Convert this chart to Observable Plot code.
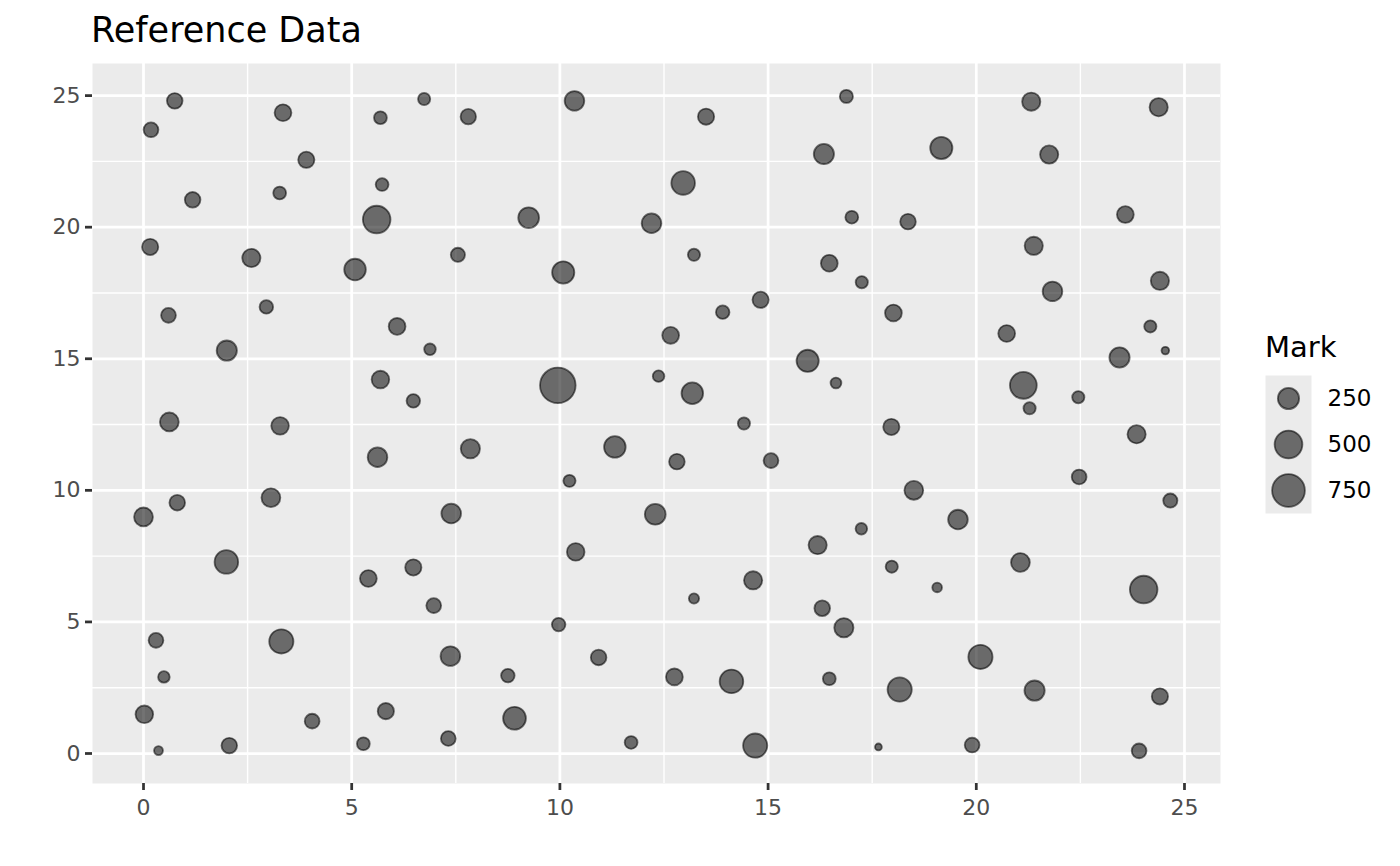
<!DOCTYPE html>
<html>
<head>
<meta charset="utf-8">
<script src="https://cdn.jsdelivr.net/npm/d3@7"></script>
<script src="https://cdn.jsdelivr.net/npm/@observablehq/plot@0.6"></script>
<style>
  html, body { margin: 0; padding: 0; background: white; }
  #wrap { position: relative; width: 1400px; height: 866px; overflow: hidden; font-family: "DejaVu Sans", sans-serif; }
  #chart { position: absolute; left: 0; top: 0; }
  #title { position: absolute; left: 91px; top: 13px; font-size: 35px; line-height: 35px; color: #000; white-space: nowrap; }
  #legtitle { position: absolute; left: 1265px; top: 333px; font-size: 29px; line-height: 29px; color: #000; }
  #legend { position: absolute; left: 1265px; top: 375px; }
</style>
</head>
<body>
<div id="wrap">
  <div id="chart"></div>
  <div id="title">Reference Data</div>
  <div id="legtitle">Mark</div>
  <div id="legend"></div>
</div>
<script>
const xs = [0.75, 0.18, 3.35, 3.91, 5.69, 6.74, 7.80, 1.18, 3.27, 5.73, 5.60, 0.16, 2.59, 5.08, 7.55,
  10.35, 13.51, 16.34, 16.88, 12.96, 9.25, 12.20, 13.22, 16.47, 17.01, 10.08, 14.82,
  21.32, 24.38, 19.16, 21.75, 18.36, 23.58, 21.38, 17.25, 21.83, 24.41,
  0.60, 2.95, 2.00, 6.09, 6.88, 5.69, 6.48, 0.62, 3.28, 5.62, 7.85, 0.81, 0.00, 3.06, 7.39,
  13.91, 12.66, 15.95, 16.63, 9.95, 12.37, 13.18, 14.42, 11.32, 12.81, 15.07, 10.23, 12.29,
  18.01, 20.73, 24.18, 24.54, 23.44, 21.13, 21.28, 22.45, 17.96, 23.85, 22.47, 18.50, 24.66, 19.56, 17.24,
  1.99, 5.40, 6.48, 6.97, 0.30, 3.31, 7.37, 0.49, 0.02, 4.05, 5.82, 0.36, 2.06, 5.28, 7.32,
  10.38, 14.64, 13.22, 16.19, 16.30, 16.82, 9.97, 10.93, 8.75, 12.75, 14.12, 16.47, 8.91, 11.71, 14.69,
  17.97, 19.06, 21.06, 24.02, 20.10, 18.16, 21.40, 24.41, 17.65, 19.90, 23.91];
const ys = [24.80, 23.70, 24.35, 22.56, 24.16, 24.87, 24.20, 21.04, 21.30, 21.62, 20.29, 19.25, 18.83, 18.39, 18.95,
  24.80, 24.20, 22.78, 24.97, 21.68, 20.36, 20.15, 18.95, 18.63, 20.38, 18.28, 17.24,
  24.77, 24.56, 23.01, 22.76, 20.21, 20.48, 19.29, 17.91, 17.56, 17.96,
  16.65, 16.97, 15.31, 16.23, 15.36, 14.21, 13.40, 12.60, 12.45, 11.26, 11.58, 9.53, 8.99, 9.72, 9.12,
  16.77, 15.89, 14.92, 14.08, 13.99, 14.34, 13.69, 12.54, 11.65, 11.09, 11.13, 10.36, 9.09,
  16.74, 15.96, 16.23, 15.31, 15.05, 13.99, 13.12, 13.54, 12.41, 12.13, 10.51, 10.00, 9.61, 8.89, 8.54,
  7.28, 6.65, 7.07, 5.62, 4.30, 4.26, 3.70, 2.91, 1.49, 1.23, 1.61, 0.11, 0.30, 0.37, 0.57,
  7.66, 6.58, 5.89, 7.92, 5.52, 4.78, 4.90, 3.65, 2.96, 2.91, 2.74, 2.84, 1.34, 0.42, 0.30,
  7.10, 6.31, 7.26, 6.23, 3.67, 2.43, 2.39, 2.17, 0.25, 0.32, 0.10];
const marks = [104, 88, 130, 117, 55, 46, 100, 104, 55, 55, 493, 117, 164, 262, 77,
  202, 117, 219, 60, 331, 237, 202, 46, 130, 55, 282, 117,
  164, 164, 282, 164, 104, 130, 164, 46, 202, 164,
  88, 66, 219, 130, 38, 149, 66, 180, 149, 202, 190, 104, 180, 180, 202,
  66, 130, 282, 29, 912, 38, 262, 46, 262, 104, 88, 46, 237,
  130, 130, 46, 5, 219, 458, 46, 46, 117, 164, 88, 180, 77, 202, 38,
  331, 130, 117, 88, 88, 353, 202, 38, 149, 88, 117, 12, 104, 55, 88,
  149, 164, 23, 164, 104, 190, 66, 104, 66, 130, 331, 55, 303, 55, 353,
  46, 18, 180, 493, 353, 353, 219, 117, 2, 88, 88];

const majorTicks = [0, 5, 10, 15, 20, 25];
const minorTicks = [2.5, 7.5, 12.5, 17.5, 22.5];
const legendValues = [250, 500, 750];

const data = xs.map((x, i) => ({x, y: ys[i], mark: marks[i]}));

const rScale = {type: "sqrt", domain: [0, 1000], range: [2.7, 18.51]};
const gridMinor = {stroke: "white", strokeOpacity: 1, strokeWidth: 1.4};
const gridMajor = {stroke: "white", strokeOpacity: 1, strokeWidth: 2.75};
const axisStyle = {tickSize: 7, stroke: "#333333", strokeWidth: 2.75, fill: "#4d4d4d", fontSize: 22, label: null};

const chart = Plot.plot({
  width: 1400,
  height: 866,
  marginLeft: 92,
  marginRight: 180,
  marginTop: 63,
  marginBottom: 83,
  style: {fontFamily: "DejaVu Sans", background: "transparent", overflow: "visible"},
  x: {domain: [-1.225, 25.865]},
  y: {domain: [-1.14, 26.22]},
  r: rScale,
  marks: [
    Plot.frame({fill: "#ebebeb", stroke: "none"}),
    Plot.gridX(minorTicks, gridMinor),
    Plot.gridY(minorTicks, gridMinor),
    Plot.gridX(majorTicks, gridMajor),
    Plot.gridY(majorTicks, gridMajor),
    Plot.axisX(majorTicks, {...axisStyle, tickPadding: 9}),
    Plot.axisY(majorTicks, {...axisStyle, tickPadding: 5}),
    Plot.dot(data, {x: "x", y: "y", r: "mark", fill: "black", fillOpacity: 0.55, stroke: "black", strokeOpacity: 0.55, strokeWidth: 1.8})
  ]
});
document.getElementById("chart").appendChild(chart);

const legend = Plot.plot({
  width: 135,
  height: 138,
  marginLeft: 0,
  marginRight: 89,
  marginTop: 0,
  marginBottom: 0,
  style: {fontFamily: "DejaVu Sans", background: "transparent", overflow: "visible"},
  y: {type: "band", domain: legendValues.map(String), padding: 0},
  r: rScale,
  marks: [
    Plot.frame({fill: "#ebebeb", stroke: "none"}),
    Plot.dot(legendValues, {y: d => String(d), r: d => d, fill: "black", fillOpacity: 0.55, stroke: "black", strokeOpacity: 0.55, strokeWidth: 1.8}),
    Plot.axisY({anchor: "right", tickSize: 0, tickPadding: 16, fontSize: 23, fill: "black", label: null})
  ]
});
document.getElementById("legend").appendChild(legend);
</script>
</body>
</html>
